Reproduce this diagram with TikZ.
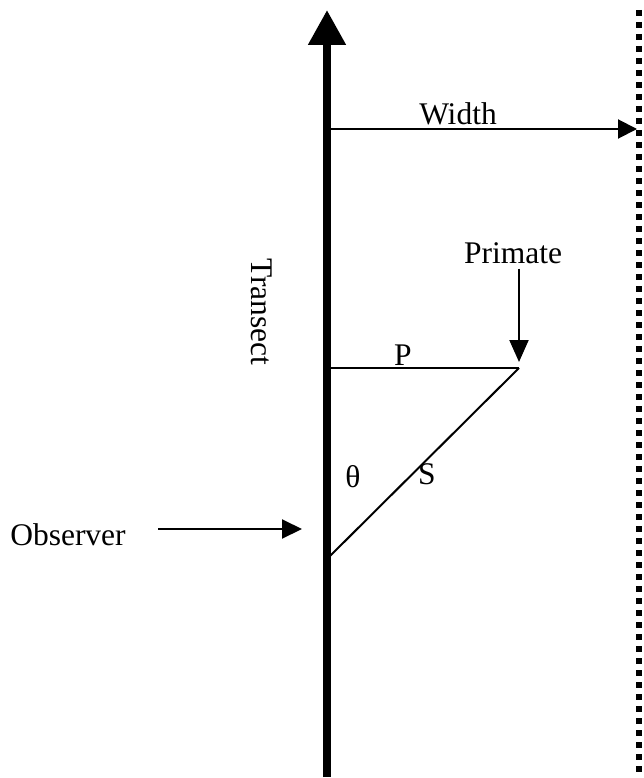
\documentclass[tikz,border=0pt]{standalone}
\usepackage{fontspec}
\setmainfont{Liberation Serif}
\usetikzlibrary{arrows.meta, positioning}
\definecolor{cInk}{HTML}{000000}
\tikzset{
  lbl/.style={font=\fontsize{31.5}{37}\selectfont, text=cInk, inner sep=0pt, anchor=base},
  transect/.style={line width=8pt, color=cInk, -{Triangle[length=35pt, width=36pt]}},
  boundary/.style={line width=6pt, color=cInk, dash pattern=on 6pt off 6pt},
  thin/.style={line width=2pt, color=cInk},
  arw/.style={thin, -{Triangle[length=#1, width=19pt]}},
  arw/.default=20pt,
}
\begin{document}
\begin{tikzpicture}[x=1pt, y=-1pt]
  \useasboundingbox (0,0) rectangle (643,778);

  % Transect and strip edge
  \coordinate (tbase) at (327,777);
  \coordinate (ttop) at (327,10);
  \draw[transect] (tbase) -- (ttop);
  \coordinate (edgetop) at (639,10);
  \coordinate (edgebot) at (639,778);
  \draw[boundary] (edgetop) -- (edgebot);

  % Width
  \coordinate (wstart) at (331,129);
  \coordinate (wend) at (637,129);
  \draw[arw=19pt] (wstart) -- (wend);
  \node[lbl] (width) at (458,125) {Width};

  % Transect label
  \node[lbl, rotate=-90, anchor=center] (tlabel) at (262,312) {Transect};

  % Triangle
  \coordinate (primate) at (519,368);
  \coordinate (pfoot) at (331,368);
  \coordinate (observer) at (330,556);
  \draw[thin] (pfoot) -- (primate);
  \draw[thin] (primate) -- (observer);
  \node[lbl] (plabel) at (403,365) {P};
  \node[lbl] (slabel) at (427,484) {S};
  \node[lbl] (theta) at (353,487) {θ};

  % Primate pointer
  \node[lbl] (primlabel) at (513,263) {Primate};
  \coordinate (primtip) at (519,362);
  \draw[arw=22pt] (primlabel.south -| primtip) ++(0,5) -- (primtip);

  % Observer pointer
  \node[lbl] (obslabel) at (68,545) {Observer};
  \coordinate (obsstart) at (158,529);
  \coordinate (obstip) at (302,529);
  \draw[arw] (obsstart) -- (obstip);

\end{tikzpicture}
\end{document}
